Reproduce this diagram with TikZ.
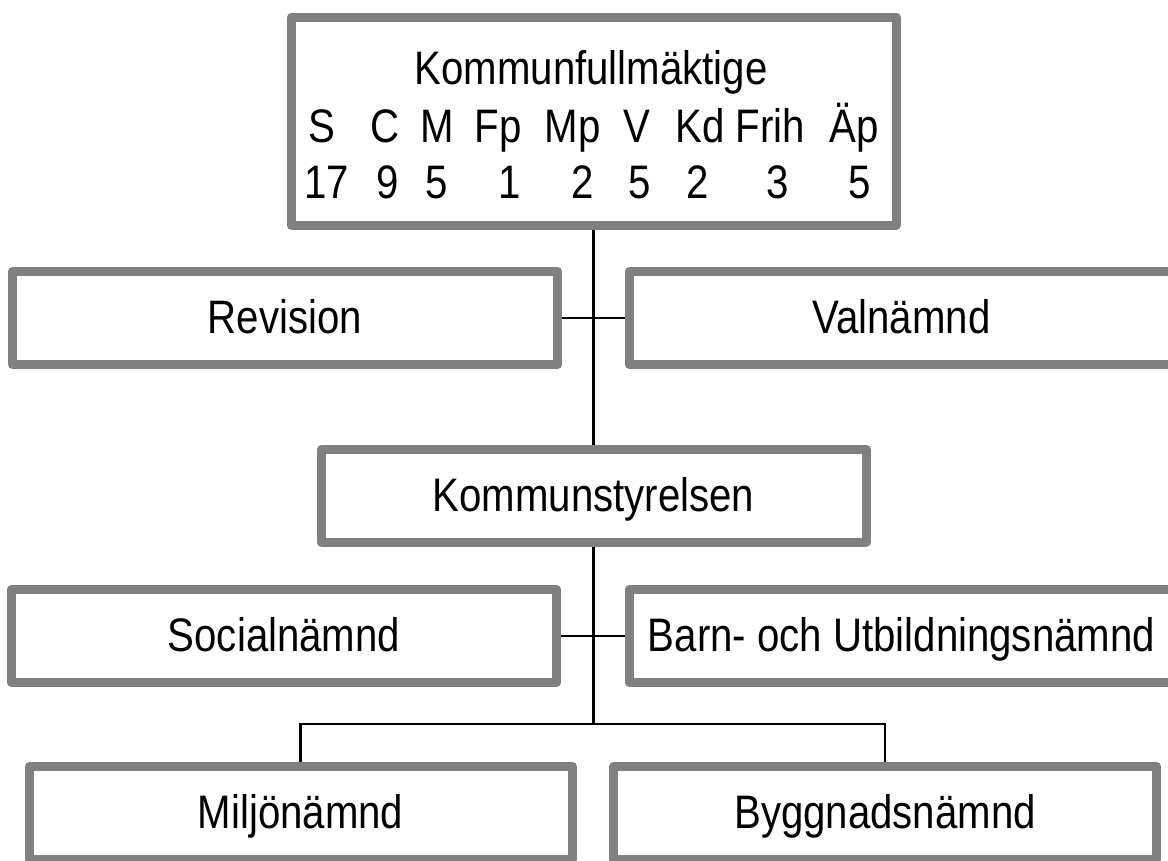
\documentclass[tikz,border=0pt]{standalone}
\usepackage{fontspec}
\newfontfamily\narrowsans[FakeStretch=0.855]{Liberation Sans}
\newcommand\orgfont{\narrowsans\fontsize{47pt}{56pt}\selectfont}
\usetikzlibrary{backgrounds}
\definecolor{boxgray}{RGB}{128,128,128}
\begin{document}
\begin{tikzpicture}[x=1pt,y=-1pt,
  box/.style={draw=boxgray, line width=9pt, line join=round, fill=white,
    inner sep=0pt, minimum width=545pt, minimum height=93pt,
    text height=31pt, text depth=0pt, font=\orgfont},
  conn/.style={draw=black, line width=2.6pt},
  lbl/.style={anchor=base, inner sep=0pt, font=\orgfont}]
\useasboundingbox (0,0) rectangle (1168,860);
\clip (0,0) rectangle (1168,860);

% boxes
\node[box, minimum width=605pt, minimum height=208pt] (kf) at (593.5,121) {};
\node[box] (rev) at (285,318) {Revision};
\node[box] (val) at (901.5,318) {Valnämnd};
\node[box] (ks) at (593.5,495.5) {Kommunstyrelsen};
\node[box] (soc) at (284,636) {Socialnämnd};
\node[box] (barn) at (901.5,636) {Barn- och Utbildningsnämnd};
\node[box, minimum width=543pt] (mil) at (300.5,812.5) {Miljönämnd};
\node[box, minimum width=543pt] (byg) at (885,812.5) {Byggnadsnämnd};

% text of the council box
\node[lbl] (title) at (591,84.5) {Kommunfullmäktige};
\node[lbl] (pS) at (322,142.5) {S};
\node[lbl] (pC) at (385.5,142.5) {C};
\node[lbl] (pM) at (437,142.5) {M};
\node[lbl] (pFp) at (498,142.5) {Fp};
\node[lbl] (pMp) at (572.5,142.5) {Mp};
\node[lbl] (pV) at (637,142.5) {V};
\node[lbl] (pKd) at (700.5,142.5) {Kd};
\node[lbl] (pFrih) at (770.5,142.5) {Frih};
\node[lbl] (pAp) at (854.5,142.5) {Äp};
\node[lbl] (nS) at (327,198.5) {17};
\node[lbl] (nC) at (388,198.5) {9};
\node[lbl] (nM) at (437,198.5) {5};
\node[lbl] (nFp) at (510,198.5) {1};
\node[lbl] (nMp) at (583,198.5) {2};
\node[lbl] (nV) at (640,198.5) {5};
\node[lbl] (nKd) at (697.5,198.5) {2};
\node[lbl] (nFrih) at (778,198.5) {3};
\node[lbl] (nAp) at (859.5,198.5) {5};

\coordinate (j) at (593.5,724);

% connectors
\begin{scope}[on background layer]
\draw[conn] (kf.south) -- (ks.north);
\draw[conn] (rev.east) -- (val.west);
\draw[conn] (soc.east) -- (barn.west);
\draw[conn] (ks.south) -- (j);
\draw[conn] (mil.north) |- (j) -| (byg.north);
\end{scope}
\end{tikzpicture}
\end{document}
